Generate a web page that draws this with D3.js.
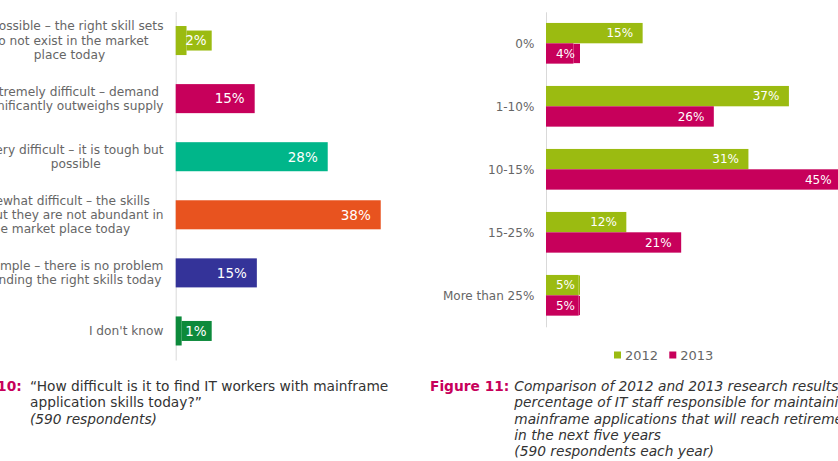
<!DOCTYPE html>
<html><head><meta charset="utf-8">
<script src="https://cdn.jsdelivr.net/npm/d3@7"></script>
<style>
html,body{margin:0;padding:0;background:#fff;overflow:hidden}
svg{display:block}
text{font-family:"DejaVu Sans",Verdana,sans-serif}
</style>
</head><body>
<svg id="chart" width="838" height="461"></svg>
<script>
// ---------- DATA ----------
const difficultyCategories = [
  ["Impossible – the right skill sets", "do not exist in the market", "place today"],
  ["Extremely difficult – demand", "significantly outweighs supply"],
  ["Very difficult – it is tough but", "possible"],
  ["Somewhat difficult – the skills", "exist but they are not abundant in", "the market place today"],
  ["Simple – there is no problem", "finding the right skills today"],
  ["I don't know"]
];
const difficultyValues = [2.0, 14.6, 28.1, 37.9, 15.0, 1.1];
const difficultyColors = ["#9BBB11", "#C7005B", "#00B68A", "#E8531F", "#343399", "#0C8A3B"];

const retirementCategories = ["0%", "1-10%", "10-15%", "15-25%", "More than 25%"];
const seriesYears = ["2012", "2013"];
const values2012 = [14.8, 37.2, 31.0, 12.3, 5.0];
const values2013 = [4.2, 25.7, 45.2, 20.7, 5.0];
const seriesColors = ["#9BBB11", "#C7005B"];

const caption10Label = "Figure 10:";
const caption10Lines = ["“How difficult is it to find IT workers with mainframe", "application skills today?”", "(590 respondents)"];
const caption11Label = "Figure 11:";
const caption11Lines = ["Comparison of 2012 and 2013 research results on the",
  "percentage of IT staff responsible for maintaining",
  "mainframe applications that will reach retirement age",
  "in the next five years",
  "(590 respondents each year)"];

// ---------- DRAW ----------
const svg = d3.select("#chart");
svg.append("rect").attr("width", 838).attr("height", 461).attr("fill", "#fff");
const fmt = v => Math.round(v) + "%";
const capSize = 13.75;

// Left chart: Figure 10
(function () {
  const axisX = 175.7;
  const x = d3.scaleLinear().domain([0, 40]).range([axisX, axisX + 40 * 5.41]);
  const idx = d3.range(difficultyValues.length);
  const y = d3.scaleBand().domain(idx).range([11.5, 360]).paddingInner(0.5).paddingOuter(0.25);
  const g = svg.append("g");

  g.append("g").attr("transform", `translate(${axisX},0)`)
    .call(d3.axisLeft(y).tickSize(0).tickFormat(""))
    .call(s => s.select(".domain").attr("stroke", "#d9d9d9").attr("stroke-width", 1));

  g.selectAll("rect.bar").data(idx).join("rect").attr("class", "bar")
    .attr("x", axisX).attr("y", i => y(i))
    .attr("width", i => x(difficultyValues[i]) - axisX)
    .attr("height", y.bandwidth())
    .attr("fill", i => difficultyColors[i]);

  const minEnd = axisX + 31;
  idx.forEach(i => {
    const end = x(difficultyValues[i]);
    const mid = y(i) + y.bandwidth() / 2;
    let tx = end - 10;
    if (tx < minEnd) {
      tx = minEnd;
      g.append("rect").attr("x", end).attr("y", mid - 10)
        .attr("width", tx + 5 - end).attr("height", 20).attr("fill", difficultyColors[i]);
    }
    g.append("text").attr("x", tx).attr("y", mid + 13.5 * 0.36)
      .attr("text-anchor", "end").attr("font-size", 13.5).attr("fill", "#fff")
      .text(fmt(difficultyValues[i]));
  });

  // category labels (multi-line, centered block, right edge fixed)
  const rightEdge = 163.5, lh = 14.4;
  idx.forEach(i => {
    const lines = difficultyCategories[i];
    const mid = y(i) + y.bandwidth() / 2;
    const t = g.append("text").attr("font-size", 12.2).attr("fill", "#666").attr("text-anchor", "middle");
    const spans = lines.map((ln, k) => t.append("tspan")
      .attr("y", mid + (k - (lines.length - 1) / 2) * lh + 4.3).text(ln));
    const maxW = d3.max(spans, s => s.node().getComputedTextLength());
    spans.forEach(s => s.attr("x", rightEdge - maxW / 2));
  });

  // caption
  const cg = svg.append("g");
  cg.append("text").attr("x", 21.7).attr("y", 391).attr("font-size", capSize).attr("text-anchor", "end")
    .attr("font-weight", "bold").attr("fill", "#C7005B").text(caption10Label);
  caption10Lines.forEach((ln, k) => {
    cg.append("text").attr("x", 30).attr("y", 391 + k * 16.3).attr("font-size", capSize)
      .attr("fill", "#333").attr("font-style", k === 2 ? "italic" : "normal").text(ln);
  });
})();

// Right chart: Figure 11
(function () {
  const axisX = 546;
  const x = d3.scaleLinear().domain([0, 50]).range([axisX, axisX + 50 * 6.53]);
  const y0 = d3.scaleBand().domain(retirementCategories).range([11.8, 326.8]).paddingInner(0.354).paddingOuter(0.177);
  const y1 = d3.scaleBand().domain(seriesYears).range([0, y0.bandwidth()]);
  const color = d3.scaleOrdinal().domain(seriesYears).range(seriesColors);
  const series = [values2012, values2013];
  const g = svg.append("g");

  g.append("g").attr("transform", `translate(${axisX},0)`)
    .call(d3.axisLeft(y0).tickSize(0).tickFormat(""))
    .call(s => s.select(".domain").attr("stroke", "#d9d9d9").attr("stroke-width", 1));

  const rows = [];
  retirementCategories.forEach((c, i) => seriesYears.forEach((yr, j) => rows.push({ c, yr, v: series[j][i] })));

  g.selectAll("rect.bar").data(rows).join("rect").attr("class", "bar")
    .attr("x", axisX).attr("y", d => y0(d.c) + y1(d.yr))
    .attr("width", d => x(d.v) - axisX).attr("height", y1.bandwidth())
    .attr("fill", d => color(d.yr));

  const minEnd = axisX + 29;
  rows.forEach(d => {
    const end = x(d.v);
    const top = y0(d.c) + y1(d.yr);
    const mid = top + y1.bandwidth() / 2;
    let tx = end - 9.5;
    if (tx < minEnd) {
      tx = minEnd;
      g.append("rect").attr("x", end).attr("y", top + 0.5)
        .attr("width", tx + 5 - end).attr("height", y1.bandwidth() - 1).attr("fill", color(d.yr));
    }
    g.append("text").attr("x", tx).attr("y", mid + 12 * 0.36)
      .attr("text-anchor", "end").attr("font-size", 12).attr("fill", "#fff").text(fmt(d.v));
  });

  g.selectAll("text.cat").data(retirementCategories).join("text").attr("class", "cat")
    .attr("x", 534.3).attr("y", c => y0(c) + y0.bandwidth() / 2 + 4.3)
    .attr("text-anchor", "end").attr("font-size", 12).attr("fill", "#666").text(c => c);

  // legend
  const lg = svg.append("g");
  const legendX = [614, 669.3];
  seriesYears.forEach((yr, j) => {
    lg.append("rect").attr("x", legendX[j]).attr("y", 351.5).attr("width", 7).attr("height", 7).attr("fill", color(yr));
    lg.append("text").attr("x", legendX[j] + 11).attr("y", 359.7).attr("font-size", 13)
      .attr("fill", "#666").text(yr);
  });

  // caption
  const cg = svg.append("g");
  cg.append("text").attr("x", 430).attr("y", 391).attr("font-size", capSize)
    .attr("font-weight", "bold").attr("fill", "#C7005B").text(caption11Label);
  caption11Lines.forEach((ln, k) => {
    cg.append("text").attr("x", 514.3).attr("y", 391 + k * 16.3).attr("font-size", capSize)
      .attr("fill", "#333").attr("font-style", "italic").text(ln);
  });
})();
</script>
</body></html>
